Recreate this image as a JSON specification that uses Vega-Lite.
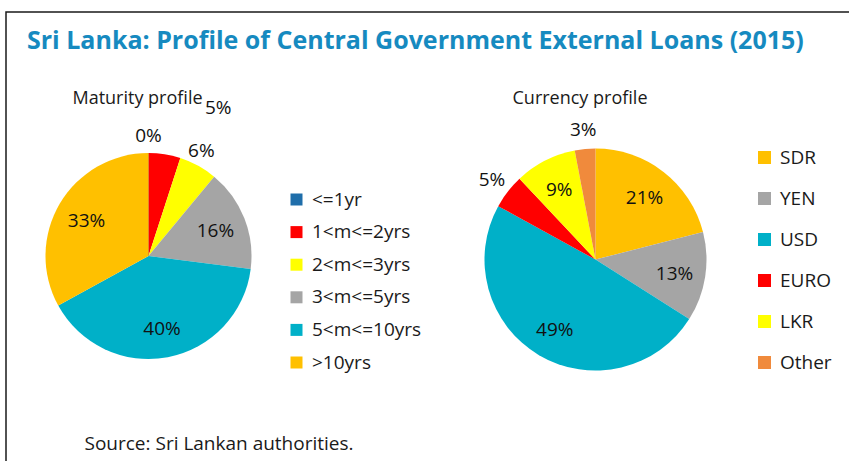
{
  "$schema": "https://vega.github.io/schema/vega-lite/v6.json",
  "width": 849,
  "height": 461,
  "autosize": {"type": "fit", "contains": "padding"},
  "padding": {"left": 6, "top": 12, "right": -3, "bottom": -3},
  "background": "white",
  "title": {
    "text": "Sri Lanka: Profile of Central Government External Loans (2015)",
    "anchor": "start",
    "frame": "group",
    "offset": -42,
    "dx": 21,
    "font": "Open Sans",
    "fontSize": 25,
    "fontWeight": "bold",
    "color": "#168ac0"
  },
  "config": {
    "font": "Open Sans",
    "view": {"stroke": "#1a1a1a", "strokeWidth": 1.5}
  },
  "datasets": {
    "maturity": [
      {"profile": "Maturity profile", "category": "<=1yr", "value": 0, "label": "0%"},
      {"profile": "Maturity profile", "category": "1<m<=2yrs", "value": 5, "label": "5%"},
      {"profile": "Maturity profile", "category": "2<m<=3yrs", "value": 6, "label": "6%"},
      {"profile": "Maturity profile", "category": "3<m<=5yrs", "value": 16, "label": "16%"},
      {"profile": "Maturity profile", "category": "5<m<=10yrs", "value": 40, "label": "40%"},
      {"profile": "Maturity profile", "category": ">10yrs", "value": 33, "label": "33%"}
    ],
    "currency": [
      {"profile": "Currency profile", "category": "SDR", "value": 21, "label": "21%"},
      {"profile": "Currency profile", "category": "YEN", "value": 13, "label": "13%"},
      {"profile": "Currency profile", "category": "USD", "value": 49, "label": "49%"},
      {"profile": "Currency profile", "category": "EURO", "value": 5, "label": "5%"},
      {"profile": "Currency profile", "category": "LKR", "value": 9, "label": "9%"},
      {"profile": "Currency profile", "category": "Other", "value": 3, "label": "3%"}
    ],
    "profiles": [
      {"profile": "Maturity profile"},
      {"profile": "Currency profile"}
    ]
  },
  "encoding": {
    "x": {
      "field": "profile",
      "type": "nominal",
      "scale": {"type": "point", "padding": 0, "domain": ["Maturity profile", "Currency profile"], "range": [142.5, 589.5]},
      "axis": {
        "domain": false,
        "ticks": false,
        "labels": false,
        "grid": false,
        "title": "Source: Sri Lankan authorities.",
        "titleX": 78,
        "titleY": -14.5,
        "titleAlign": "left",
        "titleAnchor": "start",
        "titleBaseline": "alphabetic",
        "titleFont": "Open Sans",
        "titleFontSize": 19,
        "titleFontWeight": "normal",
        "titleColor": "#1a1a1a"
      }
    },
    "y": {
      "field": "profile",
      "type": "nominal",
      "scale": {"type": "point", "padding": 0, "domain": ["Maturity profile", "Currency profile"], "range": [244, 247.6]},
      "axis": null
    }
  },
  "layer": [
    {
      "data": {"name": "maturity"},
      "transform": [{"window": [{"op": "row_number", "as": "idx"}]}],
      "encoding": {
        "theta": {"field": "value", "type": "quantitative", "stack": true},
        "order": {"field": "idx", "type": "quantitative"},
        "detail": {"field": "category", "type": "nominal"}
      },
      "layer": [
        {
          "mark": {"type": "arc", "outerRadius": 103, "stroke": "#9a9a9a"},
          "encoding": {
            "strokeWidth": {"condition": {"test": "datum.value == 0", "value": 1}, "value": 0},
            "color": {
              "field": "category",
              "type": "nominal",
              "sort": null,
              "scale": {
                "domain": ["<=1yr", "1<m<=2yrs", "2<m<=3yrs", "3<m<=5yrs", "5<m<=10yrs", ">10yrs"],
                "range": ["#1f6eaa", "#ff0000", "#ffff00", "#a5a5a5", "#00b0c8", "#ffc000"]
              },
              "legend": {
                "orient": "none",
                "legendX": 281,
                "legendY": 178,
                "title": null,
                "padding": 0,
                "symbolType": "square",
                "symbolSize": 144,
                "symbolStrokeWidth": 0,
                "symbolOpacity": 1,
                "labelFont": "Open Sans",
                "labelFontSize": 19,
                "labelColor": "#1a1a1a",
                "labelOffset": 6,
                "rowPadding": 12.6
              }
            }
          }
        },
        {
          "mark": {"type": "text", "radius": 72, "dy": 2, "fontSize": 19, "fill": "#111111"},
          "encoding": {"text": {"condition": {"test": "datum.value > 6", "field": "label"}, "value": ""}}
        },
        {
          "mark": {"type": "text", "radius": 120, "fontSize": 19, "fill": "#111111"},
          "encoding": {"text": {"condition": {"test": "datum.value == 0", "field": "label"}, "value": ""}}
        },
        {
          "mark": {"type": "text", "radius": 120, "dx": -5, "fontSize": 19, "fill": "#111111"},
          "encoding": {"text": {"condition": {"test": "datum.value == 6", "field": "label"}, "value": ""}}
        },
        {
          "mark": {"type": "text", "radius": 120, "dx": 51, "dy": -29, "fontSize": 19, "fill": "#111111"},
          "encoding": {"text": {"condition": {"test": "datum.value == 5", "field": "label"}, "value": ""}}
        }
      ]
    },
    {
      "data": {"name": "currency"},
      "transform": [{"window": [{"op": "row_number", "as": "idx"}]}],
      "encoding": {
        "theta": {"field": "value", "type": "quantitative", "stack": true},
        "order": {"field": "idx", "type": "quantitative"},
        "detail": {"field": "category", "type": "nominal"}
      },
      "layer": [
        {
          "mark": {"type": "arc", "outerRadius": 111},
          "encoding": {
            "color": {
              "field": "category",
              "type": "nominal",
              "sort": null,
              "scale": {
                "domain": ["SDR", "YEN", "USD", "EURO", "LKR", "Other"],
                "range": ["#ffc000", "#a5a5a5", "#00b0c8", "#ff0000", "#ffff00", "#f08a3c"]
              },
              "legend": {
                "orient": "none",
                "legendX": 749,
                "legendY": 136,
                "title": null,
                "padding": 0,
                "symbolType": "square",
                "symbolSize": 169,
                "symbolStrokeWidth": 0,
                "symbolOpacity": 1,
                "labelFont": "Open Sans",
                "labelFontSize": 19,
                "labelColor": "#1a1a1a",
                "labelOffset": 6,
                "rowPadding": 21
              }
            }
          }
        },
        {
          "mark": {"type": "text", "radius": 80, "dy": 2, "fontSize": 19, "fill": "#111111"},
          "encoding": {"text": {"condition": {"test": "datum.value > 5", "field": "label"}, "value": ""}}
        },
        {
          "mark": {"type": "text", "radius": 131, "dy": 1, "fontSize": 19, "fill": "#111111"},
          "encoding": {"text": {"condition": {"test": "datum.value <= 5", "field": "label"}, "value": ""}}
        }
      ]
    },
    {
      "data": {"name": "profiles"},
      "transform": [{"filter": "datum.profile == 'Maturity profile'"}],
      "mark": {"type": "text", "dx": -11, "dy": -152, "baseline": "alphabetic", "fontSize": 18, "fill": "#1a1a1a"},
      "encoding": {"text": {"field": "profile"}}
    },
    {
      "data": {"name": "profiles"},
      "transform": [{"filter": "datum.profile == 'Currency profile'"}],
      "mark": {"type": "text", "dx": -15.5, "dy": -155.6, "baseline": "alphabetic", "fontSize": 18, "fill": "#1a1a1a"},
      "encoding": {"text": {"field": "profile"}}
    }
  ],
  "resolve": {"scale": {"color": "independent"}}
}
